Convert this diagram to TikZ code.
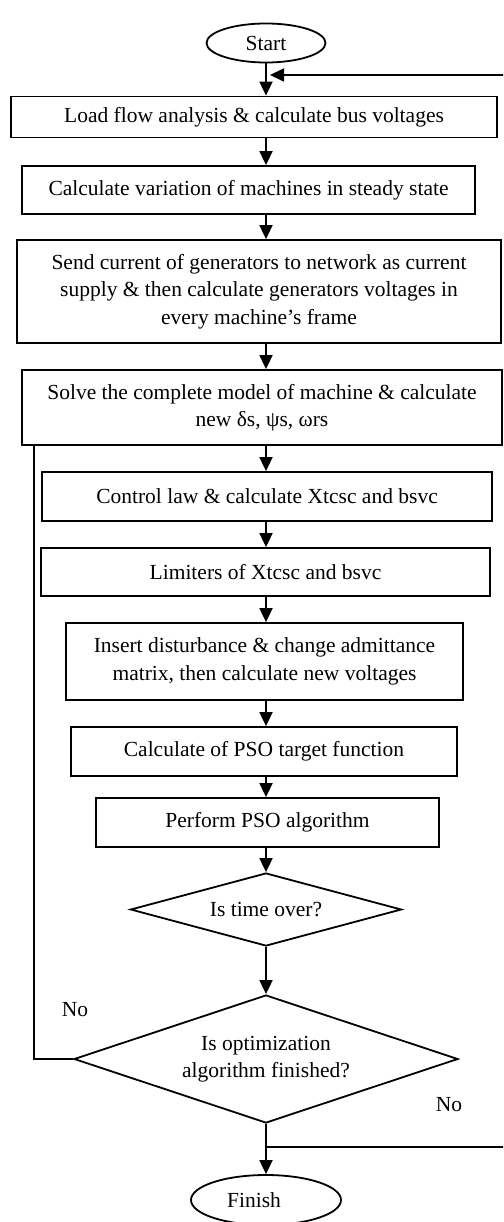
\documentclass[tikz,border=0pt]{standalone}
\usepackage{fontspec}
\setmainfont{Liberation Serif}
\usetikzlibrary{shapes.geometric,arrows.meta}
\begin{document}
\begin{tikzpicture}[x=1pt,y=-1pt,line width=1.8pt,
  every node/.style={font=\fontsize{21.5}{27.5}\selectfont},
  procbox/.style={draw,rectangle,inner sep=0pt,align=center},
  terminal/.style={draw,ellipse,inner sep=0pt},
  decision/.style={draw,diamond,inner sep=0pt,align=center},
  flow/.style={-{Triangle[length=14pt,width=13pt]}}]
\useasboundingbox (0,0) rectangle (503,1222);
\clip (0,0) rectangle (503,1222);

% terminals
\node[terminal,minimum width=119pt,minimum height=39pt] (start) at (266,43) {Start};
\node[terminal,minimum width=150pt,minimum height=50pt] (fin) at (266,1200) {Finish\kern24pt};

% process steps
\node[procbox,minimum width=486pt,minimum height=41pt] (b1) at (254,117)
  {Load flow analysis \& calculate bus voltages};
\node[procbox,minimum width=453pt,minimum height=48pt] (b2) at (248.5,190)
  {Calculate variation of machines in steady state};
\node[procbox,minimum width=484pt,minimum height=103pt] (b3) at (259,291.5)
  {Send current of generators to network as current\\supply \& then calculate generators voltages in\\every machine’s frame};
\node[procbox,minimum width=480pt,minimum height=75pt] (b4) at (262,407.5)
  {Solve the complete model of machine \& calculate\\new δs, ψs, ωrs};
\node[procbox,minimum width=450pt,minimum height=49pt] (b5) at (267,496.5)
  {Control law \& calculate Xtcsc and bsvc};
\node[procbox,minimum width=449pt,minimum height=48pt] (b6) at (265.5,572)
  {Limiters of Xtcsc and bsvc};
\node[procbox,minimum width=397pt,minimum height=77pt] (b7) at (264.5,661.5)
  {Insert disturbance \& change admittance\\matrix, then calculate new voltages};
\node[procbox,minimum width=386pt,minimum height=49pt] (b8) at (264,751.5)
  {Calculate of PSO target function};
\node[procbox,minimum width=343pt,minimum height=49pt] (b9) at (267.5,822.5)
  {Perform PSO algorithm};

% decisions
\node[decision,aspect=3.7,minimum width=271pt,minimum height=73pt] (d1) at (266,909.5) {Is time over?};
\node[decision,aspect=3,minimum width=384pt,minimum height=128pt] (d2) at (266,1059)
  {Is optimization\\algorithm finished?};

% branch labels
\node (no1) at (75,1010) {No};
\node (no2) at (449,1105) {No};

% main flow
\coordinate (ax) at (266,0);
\draw[flow] (start.south) -- (b1.north -| ax);
\draw[flow] (b1.south -| ax) -- (b2.north -| ax);
\draw[flow] (b2.south -| ax) -- (b3.north -| ax);
\draw[flow] (b3.south -| ax) -- (b4.north -| ax);
\draw[flow] (b4.south -| ax) -- (b5.north -| ax);
\draw[flow] (b5.south -| ax) -- (b6.north -| ax);
\draw[flow] (b6.south -| ax) -- (b7.north -| ax);
\draw[flow] (b7.south -| ax) -- (b8.north -| ax);
\draw[flow] (b8.south -| ax) -- (b9.north -| ax);
\draw[flow] (b9.south -| ax) -- (d1.north);
\draw[flow] (d1.south) -- (d2.north);
\draw[flow] (d2.south) -- (fin.north);

% loop back from the left vertex of the second decision
\coordinate (lx) at (34,0);
\draw (d2.west) -| (b4.south -| lx);

% loop back to the top along the right edge
\coordinate (sp) at (266,1147);
\coordinate (rt) at (508,75);
\coordinate (tip) at (270,75);
\draw[flow] (sp) -| (rt) -- (tip);
\end{tikzpicture}
\end{document}
